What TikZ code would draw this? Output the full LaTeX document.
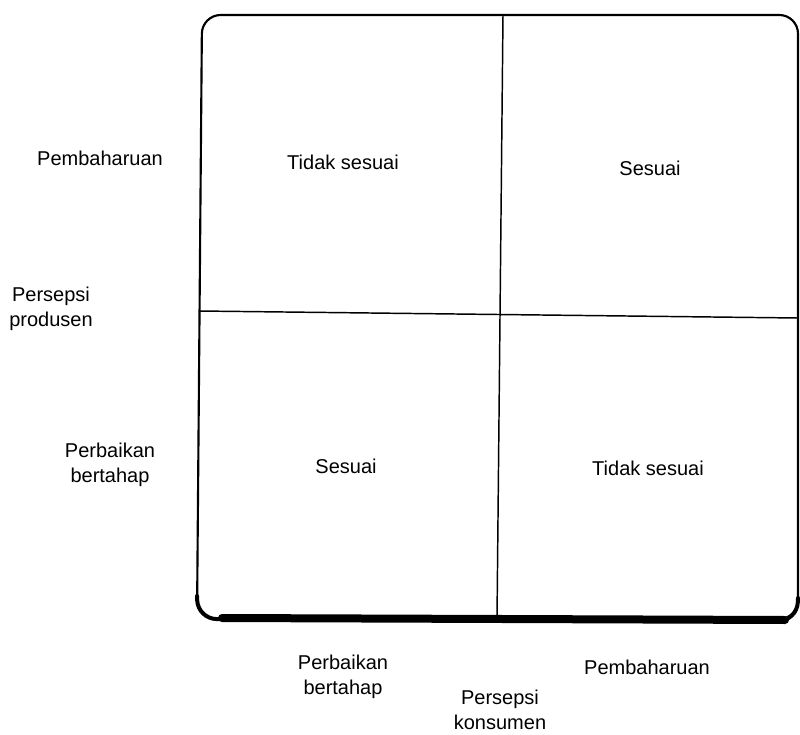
\documentclass[tikz,border=0pt]{standalone}
\usepackage{fontspec}
\setmainfont{Liberation Sans}
\begin{document}
\begin{tikzpicture}[x=0.75pt,y=-0.75pt,
  lbl/.style={font=\fontsize{15}{18.5}\selectfont, align=center, inner sep=0pt},
  frame/.style={draw=black, line width=1.6pt, rounded corners=14pt},
  divider/.style={draw=black, line width=1.1pt}]
\useasboundingbox (0,0) rectangle (800,735);
% corners of the grid
\coordinate (tl) at (202,15);
\coordinate (tr) at (798,15);
\coordinate (br) at (798,619);
\coordinate (bl) at (197,619);
% outer frame with heavy lower edge
\draw[frame] (tl) -- (tr) -- (br) -- (bl) -- cycle;
\draw[line width=3pt, line cap=round, rounded corners=14pt] (197,596) -- (198,619) -- (797,621) -- (798,598);
\draw[line width=6pt, line cap=round] (222,618) -- (785,620);
% quadrant dividers
\coordinate (vt) at (503,15);
\coordinate (vb) at (497,619);
\coordinate (hl) at (199,311);
\coordinate (hr) at (798,318);
\draw[divider] (vt) -- (vb);
\draw[divider] (hl) -- (hr);
% quadrant texts
\node[lbl] (q1) at (343,162) {Tidak sesuai};
\node[lbl] (q2) at (650,168) {Sesuai};
\node[lbl] (q3) at (346,466) {Sesuai};
\node[lbl] (q4) at (648,468) {Tidak sesuai};
% vertical axis labels
\node[lbl] (ya) at (100,158) {Pembaharuan};
\node[lbl] (yt) at (51,309) {Persepsi\\produsen};
\node[lbl] (yb) at (110,465) {Perbaikan\\bertahap};
% horizontal axis labels
\node[lbl] (xa) at (343,677) {Perbaikan\\bertahap};
\node[lbl] (xt) at (500,710) {Persepsi\\konsumen};
\node[lbl] (xb) at (647,667) {Pembaharuan};
\end{tikzpicture}
\end{document}
